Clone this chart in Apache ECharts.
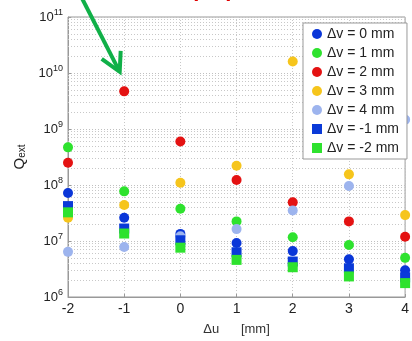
<!DOCTYPE html>
<html><head><meta charset="utf-8">
<script src="https://cdn.jsdelivr.net/npm/echarts@6/dist/echarts.min.js"></script>
<style>html,body{margin:0;padding:0;background:#fff}#c{width:412px;height:341px}</style>
</head><body><div id="c"></div>
<script>
var du = [-2, -1, 0, 1, 2, 3, 4];
var seriesNames = ['\u0394v = 0 mm', '\u0394v = 1 mm', '\u0394v = 2 mm', '\u0394v = 3 mm', '\u0394v = 4 mm', '\u0394v = -1 mm', '\u0394v = -2 mm'];
var dv0  = [7.2e7, 2.6e7, 1.34e7, 9.2e6, 6.6e6, 4.7e6, 3.0e6];
var dv1  = [4.7e8, 7.7e7, 3.76e7, 2.24e7, 1.17e7, 8.5e6, 5.0e6];
var dv2  = [2.5e8, 4.7e9, 6.0e8, 1.23e8, 4.9e7, 2.24e7, 1.19e7];
var dv3  = [2.6e7, 4.4e7, 1.1e8, 2.2e8, 1.6e10, 1.55e8, 2.9e7];
var dv4  = [6.4e6, 7.8e6, 1.22e7, 1.63e7, 3.5e7, 9.6e7, 1.47e9];
var dvm1 = [4.2e7, 1.67e7, 1.03e7, 6.3e6, 4.3e6, 3.25e6, 2.24e6];
var dvm2 = [3.25e7, 1.36e7, 7.6e6, 4.6e6, 3.4e6, 2.33e6, 1.77e6];
var xTicks = [-2, -1, 0, 1, 2, 3, 4];
var yExp = [6, 7, 8, 9, 10, 11];

var allVals = [dv0, dv1, dv2, dv3, dv4, dvm1, dvm2];
var colors = ['#0a36d8', '#2ee22e', '#e41212', '#f6c51c', '#9db4ee', '#0a3ad8', '#2ee22e'];
var symbols = ['circle', 'circle', 'circle', 'circle', 'circle', 'rect', 'rect'];

var minorLines = [];
for (var e = 6; e < 11; e++) for (var m = 2; m <= 9; m++) minorLines.push({yAxis: m * Math.pow(10, e)});

var FONT = 'Liberation Sans, Arial, sans-serif';
var series = [{
  type: 'scatter', name: 'grid', data: [], z: 1, silent: true,
  markLine: { silent: true, z: 1, symbol: ['none', 'none'], label: {show: false},
    lineStyle: {color: '#c8c8c8', type: [1, 2], width: 1}, animation: false, data: minorLines }
}];
allVals.forEach(function (vals, i) {
  series.push({
    type: 'scatter', name: seriesNames[i], symbol: symbols[i], symbolSize: 10, z: 3, clip: false,
    itemStyle: {color: colors[i], opacity: 1},
    data: du.map(function (x, k) { return [x, vals[k]]; })
  });
});

var chart = echarts.init(document.getElementById('c'));
chart.setOption({
  animation: false,
  backgroundColor: '#fff',
  grid: {left: 68, top: 17, right: -1, bottom: 34, show: true, borderColor: '#999', borderWidth: 1, containLabel: false},
  legend: {
    data: seriesNames, orient: 'vertical', left: 303, top: 23, padding: [4, 8, 4, 9],
    itemWidth: 10, itemHeight: 10, itemGap: 5, z: 10,
    backgroundColor: '#fff', borderColor: '#999', borderWidth: 1, borderRadius: 0,
    textStyle: {fontFamily: FONT, fontSize: 14, color: '#222'}
  },
  xAxis: {
    type: 'value', min: -2, max: 4, interval: 1,
    name: '\u0394u      [mm]', nameLocation: 'middle', nameGap: 26,
    nameTextStyle: {fontFamily: FONT, fontSize: 13, color: '#333'},
    axisLine: {onZero: false, lineStyle: {color: '#999'}},
    axisTick: {inside: true, length: 3, lineStyle: {color: '#999'}},
    axisLabel: {fontFamily: FONT, fontSize: 14, color: '#222', margin: 5,
      formatter: function (v) { return xTicks.indexOf(v) >= 0 ? String(v) : ''; }},
    splitLine: {show: true, lineStyle: {color: '#c8c8c8', type: [1, 2]}}
  },
  yAxis: {
    type: 'log', logBase: 10, min: 1e6, max: 1e11,
    name: '{q|Q}{s|ext}', nameLocation: 'middle', nameGap: 40, nameRotate: 90,
    nameTextStyle: {rich: {q: {fontFamily: FONT, fontSize: 15, color: '#222'},
      s: {fontFamily: FONT, fontSize: 10, color: '#222', verticalAlign: 'bottom', padding: [6, 0, 0, 0]}}},
    axisLine: {show: true, onZero: false, lineStyle: {color: '#999'}},
    axisTick: {inside: true, length: 3, lineStyle: {color: '#999'}},
    axisLabel: {margin: 5, color: '#222',
      formatter: function (v) {
        var ex = Math.round(Math.log10(v));
        return yExp.indexOf(ex) >= 0 ? '{b|10}{e|' + ex + '}' : '';
      },
      rich: {b: {fontFamily: FONT, fontSize: 13, color: '#222'},
             e: {fontFamily: FONT, fontSize: 9, color: '#222', verticalAlign: 'top', padding: [0, 0, 9, 0]}}},
    splitLine: {show: true, lineStyle: {color: '#c0c0c0', type: [1, 2]}}
  },
  series: series
});

// annotation: green arrow pointing at the dv=2 point near du=-1, and clipped red title fragment
var tip = chart.convertToPixel({gridIndex: 0}, [-1.08, 1.05e10]);
var tx = tip[0], ty = tip[1];
chart.setOption({
  graphic: [
    {type: 'polyline', z: 100, shape: {points: [[tx - 40, ty - 78], [tx, ty]]},
      style: {stroke: '#10b048', lineWidth: 4, fill: null}},
    {type: 'polyline', z: 100, shape: {points: [[tx - 18, ty - 13], [tx, ty], [tx + 1, ty - 21]]},
      style: {stroke: '#10b048', lineWidth: 4, fill: null, lineJoin: 'miter'}},
    {type: 'text', z: 100, x: 200, y: -10, style: {text: 'p', fill: '#e00000', font: 'bold 22px ' + FONT, align: 'center', verticalAlign: 'middle'}},
    {type: 'text', z: 100, x: 232, y: -10, style: {text: 'p', fill: '#e00000', font: 'bold 22px ' + FONT, align: 'center', verticalAlign: 'middle'}}
  ]
});
</script></body></html>
